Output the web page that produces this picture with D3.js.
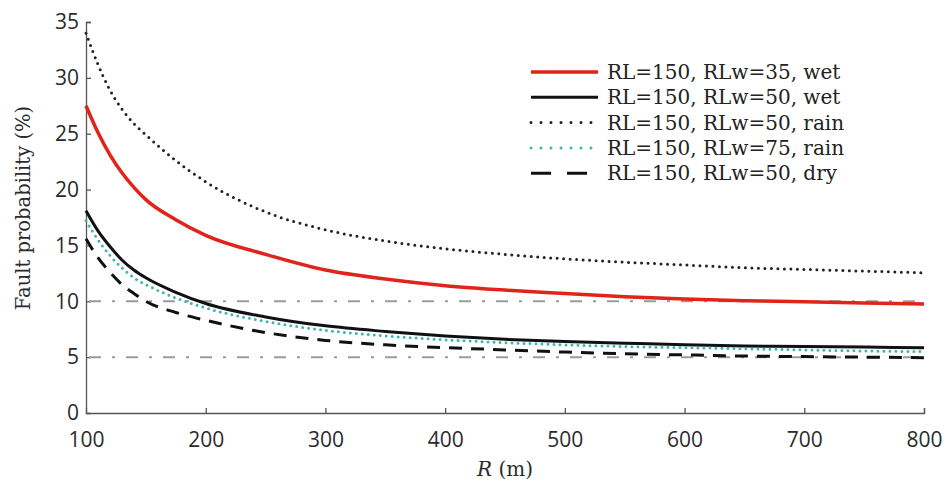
<!DOCTYPE html>
<html>
<head>
<meta charset="utf-8">
<script src="https://cdn.jsdelivr.net/npm/d3@7"></script>
<style>
  body { margin: 0; background: #fff; }
  .tick text { font-family: "Open Sans", sans-serif; font-size: 21px; fill: #2b2b2b; }
</style>
</head>
<body>
<div id="chart"></div>
<script>
// R values (m)
const radius = [100, 110, 120, 130, 140, 150, 175, 200, 250, 300, 350, 400, 450, 500, 550, 600, 650, 700, 750, 800];

// fault probability (%) per series
const red_wet35   = [27.5, 25.1, 23.1, 21.5, 20.2, 19.1, 17.3, 15.9, 14.2, 12.8, 12.0, 11.4, 11.0, 10.7, 10.4, 10.2, 10.05, 9.95, 9.85, 9.75];
const blk_wet50   = [18.1, 16.3, 14.9, 13.7, 12.8, 12.1, 10.8, 9.8, 8.6, 7.8, 7.3, 6.9, 6.6, 6.4, 6.25, 6.1, 6.0, 5.95, 5.9, 5.85];
const blk_rain50  = [34.0, 31.2, 28.9, 27.2, 25.9, 24.9, 22.6, 20.7, 18.0, 16.4, 15.4, 14.7, 14.2, 13.8, 13.5, 13.25, 13.0, 12.85, 12.7, 12.55];
const teal_rain75 = [17.2, 15.5, 14.1, 13.0, 12.1, 11.5, 10.3, 9.4, 8.2, 7.4, 6.9, 6.55, 6.3, 6.1, 5.95, 5.85, 5.75, 5.65, 5.55, 5.5];
const blk_dry50   = [15.6, 13.9, 12.6, 11.5, 10.7, 10.0, 9.0, 8.3, 7.2, 6.5, 6.1, 5.85, 5.65, 5.45, 5.3, 5.2, 5.1, 5.05, 5.0, 4.95];

const series_names = ["RL=150, RLw=35, wet", "RL=150, RLw=50, wet", "RL=150, RLw=50, rain", "RL=150, RLw=75, rain", "RL=150, RLw=50, dry"];
const threshold_levels = [10, 5];
const x_ticks = [100, 200, 300, 400, 500, 600, 700, 800];
const y_ticks = [0, 5, 10, 15, 20, 25, 30, 35];

const width = 946, height = 483;
const svg = d3.select("#chart").append("svg")
    .attr("width", width)
    .attr("height", height);

const xScale = d3.scaleLinear().domain([100, 800]).range([86, 924]);
const yScale = d3.scaleLinear().domain([0, 35]).range([413, 22]);

// line styles for each series
const styles = [
    { values: red_wet35,   stroke: "#e2231a", width: 3.5, dash: null, cap: "butt" },
    { values: blk_wet50,   stroke: "#111",    width: 3,   dash: null, cap: "butt" },
    { values: blk_rain50,  stroke: "#222",    width: 3,   dash: "0,6.5", cap: "round" },
    { values: teal_rain75, stroke: "#3fb5b0", width: 3,   dash: "0,6", cap: "round" },
    { values: blk_dry50,   stroke: "#111",    width: 3,   dash: "13,9", cap: "butt" }
];

// axes
const xAxis = d3.axisBottom(xScale).tickValues(x_ticks).tickSizeInner(-5).tickSizeOuter(-5).tickPadding(19);
const yAxis = d3.axisLeft(yScale).tickValues(y_ticks).tickSizeInner(-5).tickSizeOuter(-5).tickPadding(7);

const gx = svg.append("g")
    .attr("transform", "translate(0," + yScale(0) + ")")
    .call(xAxis);
const gy = svg.append("g")
    .attr("transform", "translate(" + xScale(100) + ",0)")
    .call(yAxis);
[gx, gy].forEach(function (g) {
    g.select(".domain").attr("stroke", "#555").attr("stroke-width", 1.3);
    g.selectAll(".tick line").attr("stroke", "#555").attr("stroke-width", 1.3);
});
gy.selectAll(".tick").filter(d => d === 0).select("line").remove();
gx.selectAll(".tick").filter(d => d === 100).select("line").remove();

// reference lines
svg.selectAll(".ref")
    .data(threshold_levels)
    .enter()
    .append("line")
    .attr("x1", xScale(100) + 3)
    .attr("x2", xScale(800))
    .attr("y1", d => yScale(d))
    .attr("y2", d => yScale(d))
    .attr("stroke", "#9a9a9a")
    .attr("stroke-width", 2)
    .attr("stroke-dasharray", "12,11,3,11");

const line = d3.line()
    .x((d, i) => xScale(radius[i]))
    .y(d => yScale(d))
    .curve(d3.curveMonotoneX);

svg.selectAll(".series")
    .data(styles)
    .enter()
    .append("path")
    .attr("d", d => line(d.values))
    .attr("fill", "none")
    .attr("stroke", d => d.stroke)
    .attr("stroke-width", d => d.width)
    .attr("stroke-linecap", d => d.cap)
    .attr("stroke-dasharray", d => d.dash);

// legend
const legend = svg.append("g");
const rows = legend.selectAll("g")
    .data(styles)
    .enter()
    .append("g")
    .attr("transform", (d, i) => "translate(0," + (72 + i * 25.3) + ")");
rows.append("line")
    .attr("x1", 531)
    .attr("x2", 598)
    .attr("stroke", d => d.stroke)
    .attr("stroke-width", d => d.width)
    .attr("stroke-linecap", d => d.cap)
    .attr("stroke-dasharray", d => d.dash ? (d.dash === "13,9" ? "20,16" : "0,10") : null);
rows.append("text")
    .attr("x", 607)
    .attr("dy", "0.35em")
    .style("font-family", "'DejaVu Serif', serif")
    .style("font-size", "20px")
    .attr("fill", "#222")
    .text((d, i) => series_names[i]);

// axis titles
svg.append("text")
    .attr("transform", "translate(30," + 208 + ") rotate(-90)")
    .attr("text-anchor", "middle")
    .style("font-family", "'DejaVu Serif', serif")
    .style("font-size", "19.5px")
    .attr("fill", "#2b2b2b")
    .text("Fault probability (%)");

const xt = svg.append("text")
    .attr("x", 505)
    .attr("y", 476)
    .attr("text-anchor", "middle")
    .style("font-family", "'DejaVu Serif', serif")
    .style("font-size", "20px")
    .attr("fill", "#2b2b2b");
xt.append("tspan").style("font-style", "italic").text("R");
xt.append("tspan").text(" (m)");
</script>
</body>
</html>
